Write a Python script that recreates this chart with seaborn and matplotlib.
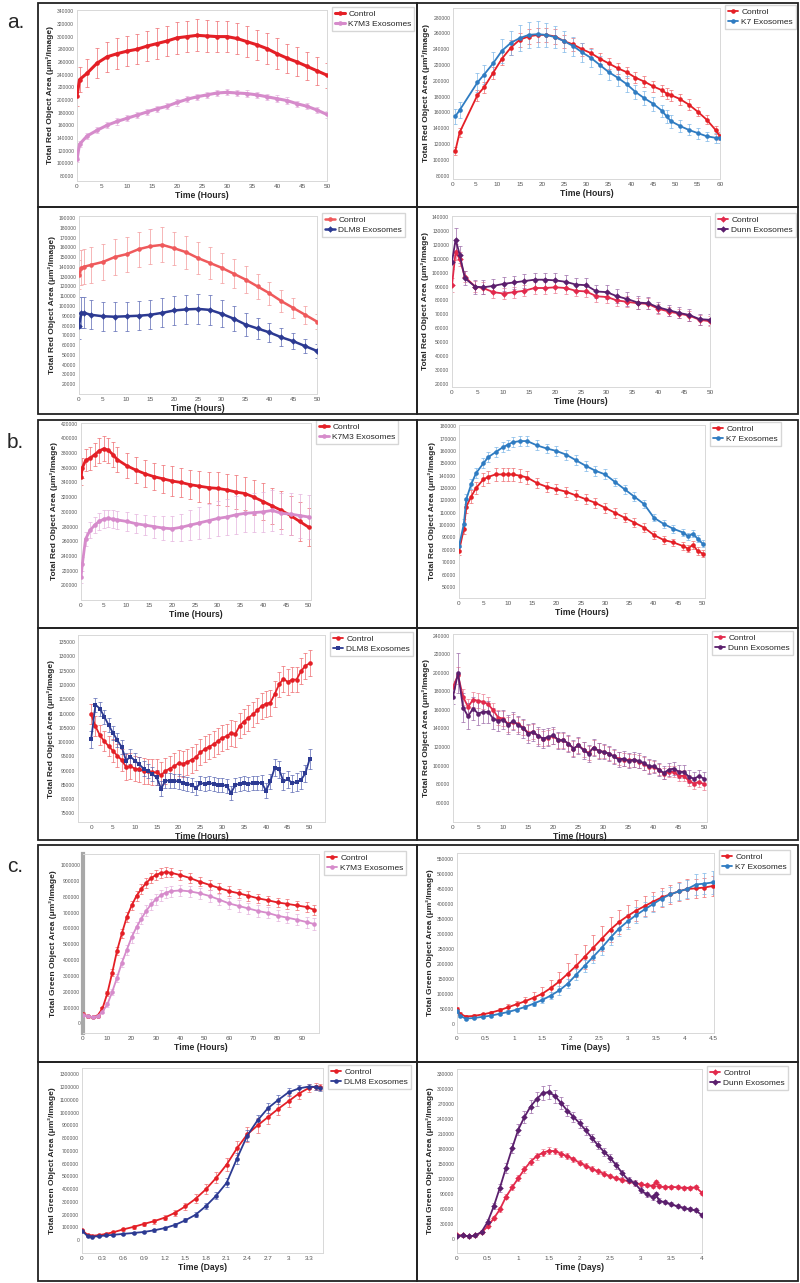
import numpy as np
import matplotlib
matplotlib.use("Agg")
import matplotlib.pyplot as plt
from matplotlib.patches import Rectangle
from matplotlib.ticker import FuncFormatter
import seaborn as sns

# ---------------- data ----------------
# a. top-left : Control vs K7M3 (hours)
a1_t = [0, 0.5, 2, 4, 6, 8, 10, 12, 14, 16, 18, 20, 22, 24, 26, 28, 30, 32, 34, 36, 38, 40, 42, 44, 46, 48, 50]
a1_ctrl = [206000, 232000, 242000, 258000, 268000, 273000, 277000, 280000, 285000, 289000, 293000, 298000, 300000, 302000,
           301000, 300000, 300000, 297000, 292000, 287000, 281000, 273000, 266000, 260000, 253000, 246000, 239000]
a1_ctrl_err = [15000, 20000, 22000, 24000, 24000, 24000, 24000, 24000, 24000, 24000, 24000, 25000, 25000, 25000,
               25000, 25000, 25000, 25000, 24000, 24000, 24000, 24000, 23000, 23000, 22000, 22000, 20000]
a1_k7m3 = [106000, 130000, 143000, 152000, 160000, 166000, 171000, 176000, 181000, 186000, 190000, 196000, 201000, 205000,
           208000, 211000, 212000, 211000, 210000, 208000, 205000, 202000, 199000, 194000, 190000, 184000, 177000]
a1_k7m3_err = [4000, 5000, 5000, 5000, 5000, 5000, 5000, 5000, 5000, 5000, 5000, 5000, 5000, 5000,
               5000, 5000, 5000, 5000, 5000, 5000, 5000, 5000, 5000, 5000, 5000, 5000, 5000]

# a. top-right : Control vs K7 (hours)
a2_t = [0.5, 1.5, 5.5, 7, 9, 11, 13, 15, 17, 19, 21, 23, 25, 27, 29, 31, 33, 35, 37, 39, 41, 43, 45, 47, 48, 49,
        51, 53, 55, 57, 59, 60]
a2_ctrl = [111000, 135000, 182000, 192000, 210000, 228000, 242000, 252000, 256000, 258000, 258000, 256000, 250000,
           246000, 240000, 235000, 228000, 222000, 216000, 211000, 204000, 199000, 193000, 188000, 184000, 182000,
           177000, 170000, 161000, 151000, 138000, 130000]
a2_ctrl_err = [5000, 6000, 7000, 7000, 8000, 8000, 9000, 9000, 9000, 9000, 9000, 9000, 8000, 8000, 8000, 7000,
               7000, 7000, 7000, 7000, 7000, 7000, 7000, 7000, 7000, 7000, 7000, 7000, 6000, 6000, 5000, 5000]
a2_k7 = [155000, 163000, 198000, 208000, 222000, 238000, 248000, 254000, 258000, 259000, 258000, 255000, 250000,
         244000, 236000, 229000, 220000, 211000, 204000, 196000, 186000, 178000, 171000, 162000, 155000, 149000,
         143000, 138000, 134000, 130000, 128000, 128000]
a2_k7_err = [10000, 10000, 12000, 12000, 14000, 15000, 15000, 16000, 16000, 16000, 15000, 14000, 13000, 12000,
             12000, 11000, 11000, 10000, 10000, 10000, 9000, 9000, 9000, 8000, 8000, 8000, 7000, 7000, 7000,
             6000, 6000, 6000]

# a. bottom-left : Control vs DLM8 (hours)
a3_t = [0, 0.5, 1, 2.5, 5, 7.5, 10, 12.5, 15, 17.5, 20, 22.5, 25, 27.5, 30, 32.5, 35, 37.5, 40, 42.5, 45, 47.5, 50]
a3_ctrl = [132000, 139000, 140000, 142000, 145000, 150000, 153000, 158000, 161000, 162500, 159000, 155000, 149000,
           144000, 139000, 133000, 127000, 120000, 113000, 105000, 98000, 91000, 84000]
a3_ctrl_err = [15000, 18000, 18000, 18000, 18000, 18000, 18000, 18000, 18000, 18000, 17000, 17000, 16000, 16000,
               15000, 15000, 14000, 13000, 12000, 11000, 10000, 9000, 8000]
a3_dlm8 = [80000, 93000, 93000, 91000, 89500, 89000, 89500, 90000, 91000, 93000, 95400, 96500, 97000, 96000,
           92000, 87000, 81000, 77000, 73000, 68000, 64000, 59000, 54000]
a3_dlm8_err = [14000, 16000, 16000, 15000, 15000, 15000, 15000, 15000, 15000, 15000, 15000, 15000, 15000, 15000,
               14000, 13000, 12000, 11000, 10000, 9000, 8000, 7000, 7000]

# a. bottom-right : Control vs Dunn (hours)
a4_t = [0, 0.7, 1.5, 2.5, 4.5, 6, 8, 10, 12, 14, 16, 18, 20, 22, 24, 26, 28, 30, 32, 34, 36, 38, 40, 42, 44, 46, 48, 50]
a4_ctrl = [91000, 115000, 110000, 97000, 90000, 89000, 86000, 85000, 86000, 87000, 89000, 89000, 89500, 89000,
           87000, 86500, 83000, 82500, 80000, 79000, 78000, 77500, 74000, 72000, 70500, 69000, 66000, 65000]
a4_ctrl_err = [5000, 6000, 5000, 4000, 4000, 4000, 4000, 4000, 4000, 4000, 4000, 4000, 4000, 4000,
               4000, 4000, 4000, 4000, 4000, 4000, 4000, 4000, 3500, 3500, 3500, 3500, 3500, 3500]
a4_dunn = [108000, 124000, 113000, 96000, 90000, 89500, 90500, 92000, 93000, 94000, 95000, 95000, 94500, 93500,
           91500, 91000, 86500, 86000, 83000, 81000, 78500, 78000, 75000, 73000, 71000, 69500, 66500, 66000]
a4_dunn_err = [5000, 8000, 6000, 5000, 5000, 5000, 5000, 5000, 5000, 5000, 5000, 5000, 5000, 5000,
               5000, 5000, 5000, 5000, 5000, 5000, 4500, 4500, 4000, 4000, 4000, 4000, 4000, 4000]

# b. top-left : Control vs K7M3 (hours)
b1_t = [0, 0.3, 1, 2, 3, 4, 5, 6, 7, 8, 10, 12, 14, 16, 18, 20, 22, 24, 26, 28, 30, 32, 34, 36, 38, 40, 42, 44,
        46, 48, 50]
b1_ctrl = [348000, 360000, 370000, 373000, 378000, 383000, 386000, 384000, 378000, 371000, 363000, 357000, 352000,
           348000, 345000, 342000, 340000, 337000, 335000, 333000, 332000, 330000, 327000, 325000, 320000, 314000,
           308000, 302000, 295000, 287000, 279000]
b1_ctrl_err = [12000, 14000, 15000, 16000, 16000, 17000, 17000, 17000, 17000, 17000, 17000, 18000, 18000, 18000,
               19000, 20000, 20000, 20000, 21000, 21000, 22000, 22000, 23000, 23000, 24000, 25000, 25000, 26000,
               26000, 26000, 26000]
b1_k7m3 = [211000, 229000, 263000, 275000, 282000, 287000, 290000, 291000, 290000, 289000, 287000, 284000, 282000,
           280000, 278000, 277000, 279000, 282000, 285000, 288000, 291000, 293000, 296000, 298000, 299000, 300000,
           302000, 298000, 297000, 295000, 293000]
b1_k7m3_err = [8000, 9000, 10000, 11000, 11000, 12000, 12000, 12000, 12000, 12000, 13000, 13000, 14000, 15000,
               16000, 17000, 18000, 20000, 22000, 23000, 24000, 25000, 26000, 26000, 27000, 27000, 28000, 28000,
               29000, 30000, 30000]

# b. top-right : Control vs K7 (hours)
b2_t = [0, 1, 1.5, 2.5, 3.5, 5, 6, 7.5, 9, 10, 11, 12.5, 14, 16, 18, 20, 22, 24, 26, 28, 30, 32, 34, 36, 38, 40,
        42, 44, 46, 47, 48, 49, 50]
b2_ctrl = [79000, 97000, 115000, 123000, 130000, 137000, 139000, 141000, 141000, 141000, 141000, 140000, 138500,
           134000, 131000, 129000, 127000, 124000, 121000, 118000, 114000, 110000, 106000, 102000, 98000, 92000,
           88000, 86000, 83000, 81000, 84000, 79000, 77000]
b2_ctrl_err = [3000, 4000, 5000, 5000, 5000, 5000, 5000, 5000, 5000, 5000, 5000, 5000, 5000, 4000, 4000, 4000,
               4000, 4000, 4000, 4000, 4000, 4000, 3500, 3500, 3500, 3000, 3000, 3000, 3000, 3000, 3000, 3000, 3000]
b2_k7 = [83000, 101000, 121000, 133000, 142000, 150000, 155000, 159000, 163000, 165000, 167000, 168000, 168000,
         164500, 162000, 160000, 157000, 152500, 148000, 144000, 141000, 135000, 129000, 123000, 117000, 106000,
         101000, 97000, 94000, 91000, 93000, 89000, 85000]
b2_k7_err = [3000, 4000, 4000, 4000, 4000, 4000, 4000, 4000, 4000, 4000, 4000, 4000, 4000, 4000, 4000, 4000,
             4000, 4000, 4000, 4000, 4000, 3500, 3500, 3500, 3500, 3000, 3000, 3000, 3000, 3000, 3000, 3000, 3000]

# b. bottom-left : Control vs DLM8 (hourly)
b3_t = [0, 1, 2, 3, 4, 5, 6, 7, 8, 9, 10, 11, 12, 13, 14, 15, 16, 17, 18, 19, 20, 21, 22, 23, 24, 25,
        26, 27, 28, 29, 30, 31, 32, 33, 34, 35, 36, 37, 38, 39, 40, 41, 42, 43, 44, 45, 46, 47, 48, 49, 50]
b3_ctrl = [109700, 105500, 102400, 100300, 98600, 96900, 95200, 93700, 91300, 91500,
           90700, 90400, 89900, 89700, 89400, 89400, 88400, 89900, 90700, 91500,
           92600, 92400, 93000, 93800, 94700, 96400, 97500, 98400, 99200, 100300,
           101500, 102000, 103200, 102800, 105800, 107200, 108500, 109700, 111100, 112600,
           113400, 113800, 116800, 120200, 122200, 121000, 121900, 121900, 124800, 126700, 127600]
b3_ctrl_err = [3500, 3500, 3500, 3500, 3500, 4000, 4000, 4000, 4500, 4500,
               4500, 4500, 4500, 4500, 4500, 4500, 4500, 4500, 4500, 4500,
               4500, 4500, 4500, 4500, 4500, 4500, 4500, 4500, 4500, 4500,
               4500, 4500, 4500, 4500, 4500, 4500, 4500, 4500, 4500, 4500,
               4500, 4500, 4500, 4500, 4500, 4500, 4500, 4500, 4500, 4500, 4500]
b3_dlm8 = [100900, 113100, 111700, 108900, 106000, 103200, 100600, 98300, 93500, 94900,
           93500, 92200, 90700, 89900, 88800, 87600, 83700, 86500, 86500, 86400,
           86200, 85600, 85300, 85000, 83900, 85600, 85400, 85600, 85400, 85000,
           85000, 84700, 82200, 85000, 85400, 85600, 85400, 85600, 85600, 85800,
           83000, 86200, 91000, 90400, 86200, 87000, 85600, 86000, 86700, 89000, 94100]
b3_dlm8_err = [3000, 2500, 2500, 2500, 2500, 2500, 2500, 2500, 2500, 2500,
               2500, 2500, 2500, 2500, 2500, 2500, 2500, 2500, 2500, 2500,
               2500, 2500, 2500, 2500, 2500, 2500, 2500, 2500, 2500, 2500,
               2500, 2500, 2500, 2500, 2500, 2500, 2500, 2500, 2500, 2500,
               2500, 2500, 3000, 3000, 3000, 3000, 3000, 3000, 3000, 3000, 3500]

# b. bottom-right : Control vs Dunn (hourly)
b4_t = b3_t
b4_ctrl = [184900, 197500, 174100, 163300, 171200, 169800, 168700, 166200, 159700, 151800,
           150700, 144600, 147100, 144600, 141000, 135200, 136300, 131600, 129100, 130200,
           131600, 127300, 127300, 123700, 118300, 121900, 117200, 113600, 119400, 115800,
           114700, 112900, 110000, 107500, 106400, 105700, 105700, 103900, 102100, 98500,
           98500, 95600, 91300, 93100, 93100, 88800, 88800, 83400, 80500, 82300, 79800]
b4_ctrl_err = [6000, 9000, 9000, 9000, 8000, 8000, 8000, 8000, 8000, 8000,
               8000, 8000, 8000, 8000, 8000, 8000, 8000, 8000, 8000, 8000,
               8000, 8000, 8000, 8000, 8000, 8000, 8000, 8000, 8000, 8000,
               7000, 7000, 7000, 7000, 7000, 7000, 7000, 7000, 7000, 7000,
               6000, 6000, 6000, 6000, 6000, 6000, 6000, 6000, 6000, 6000, 6000]
b4_dunn = [174100, 200000, 162600, 153200, 161500, 156100, 157900, 157900, 150700, 148200,
           149600, 144200, 148200, 143500, 140000, 134500, 136300, 131600, 129100, 130900,
           132700, 127300, 127300, 123700, 118300, 121900, 116500, 112900, 119400, 115800,
           114700, 112900, 110000, 106400, 107500, 105000, 106400, 105000, 102800, 99200,
           99200, 95600, 92000, 95600, 96700, 93100, 93100, 87700, 85900, 88400, 85900]
b4_dunn_err = [8000, 22000, 16000, 14000, 12000, 12000, 12000, 12000, 11000, 11000,
               10000, 10000, 10000, 10000, 10000, 10000, 10000, 10000, 10000, 10000,
               9000, 9000, 9000, 9000, 9000, 9000, 9000, 9000, 9000, 9000,
               8000, 8000, 8000, 8000, 8000, 8000, 8000, 8000, 8000, 8000,
               7000, 7000, 7000, 7000, 7000, 7000, 7000, 7000, 7000, 7000, 7000]

# c. top-left : Control vs K7M3 green area (hours)
c1_t = [0, 2, 4, 6, 8, 10, 12, 14, 16, 18, 20, 22, 24, 26, 28, 30, 32, 34, 36, 40, 44, 48, 52, 56, 60, 64, 68,
        72, 76, 80, 84, 88, 92, 95]
c1_ctrl = [60000, 45000, 40000, 50000, 95000, 190000, 320000, 460000, 570000, 672000, 745000, 806000, 850000,
           888000, 918000, 938000, 950000, 955000, 952000, 937000, 918000, 895000, 875000, 855000, 836000, 822000,
           806000, 790000, 778000, 764000, 755000, 745000, 735000, 718000]
c1_ctrl_err = [10000, 8000, 8000, 10000, 12000, 18000, 22000, 25000, 28000, 30000, 30000, 30000, 30000,
               30000, 30000, 30000, 30000, 30000, 30000, 30000, 30000, 30000, 30000, 30000, 30000, 30000,
               30000, 30000, 30000, 30000, 30000, 30000, 30000, 30000]
c1_k7m3 = [55000, 45000, 40000, 45000, 75000, 120000, 200000, 290000, 385000, 465000, 545000, 608000, 662000,
           712000, 752000, 785000, 810000, 825000, 835000, 840000, 834000, 822000, 805000, 782000, 758000, 742000,
           726000, 710000, 698000, 680000, 668000, 655000, 640000, 628000]
c1_k7m3_err = [8000, 6000, 6000, 8000, 10000, 15000, 20000, 25000, 30000, 32000, 35000, 35000, 35000,
               35000, 35000, 35000, 35000, 35000, 35000, 35000, 35000, 35000, 35000, 35000, 35000, 35000,
               35000, 35000, 35000, 35000, 35000, 35000, 35000, 35000]

# c. top-right : Control vs K7 green area (days)
c2_t = [0, 0.05, 0.15, 0.3, 0.45, 0.6, 0.75, 0.9, 1.05, 1.2, 1.35, 1.5, 1.65, 1.8, 1.95, 2.1, 2.25, 2.4, 2.55,
        2.7, 2.85, 3.0, 3.15, 3.3, 3.45, 3.6, 3.75, 3.9, 4.05, 4.2, 4.35, 4.5]
c2_ctrl = [50000, 35000, 25000, 27000, 32000, 38000, 46000, 56000, 66000, 76000, 88000, 101000, 120000, 142000,
           168000, 195000, 225000, 255000, 285000, 315000, 340000, 360000, 378000, 393000, 408000, 422000, 432000,
           442000, 450000, 452000, 455000, 460000]
c2_ctrl_err = [8000, 6000, 5000, 5000, 6000, 7000, 8000, 10000, 12000, 14000, 18000, 22000, 26000, 30000, 34000,
               38000, 40000, 42000, 42000, 42000, 40000, 38000, 36000, 34000, 32000, 32000, 32000, 32000, 32000,
               32000, 32000, 32000]
c2_k7 = [45000, 28000, 18000, 20000, 24000, 28000, 34000, 40000, 48000, 57000, 68000, 80000, 95000, 112000,
         135000, 165000, 195000, 225000, 255000, 288000, 318000, 342000, 363000, 382000, 400000, 418000, 432000,
         442000, 450000, 465000, 468000, 472000]
c2_k7_err = [6000, 5000, 4000, 4000, 4000, 5000, 5000, 6000, 6000, 7000, 8000, 10000, 12000, 14000, 16000,
             18000, 20000, 22000, 24000, 26000, 26000, 26000, 26000, 26000, 26000, 26000, 26000, 28000, 30000,
             34000, 36000, 38000]

# c. bottom-left : Control vs DLM8 green area (days)
c3_t = [0, 0.08, 0.15, 0.25, 0.35, 0.45, 0.6, 0.75, 0.9, 1.05, 1.2, 1.35, 1.5, 1.65, 1.8, 1.95, 2.1, 2.25, 2.4,
        2.55, 2.7, 2.85, 3.0, 3.15, 3.3, 3.4, 3.45]
c3_ctrl = [80000, 42000, 35000, 40000, 50000, 62000, 85000, 105000, 128000, 150000, 177000, 215000, 265000,
           325000, 400000, 490000, 593000, 720000, 830000, 900000, 965000, 1030000, 1090000, 1150000, 1195000,
           1205000, 1200000]
c3_ctrl_err = [10000, 8000, 8000, 8000, 10000, 12000, 14000, 16000, 18000, 20000, 22000, 25000, 30000, 35000,
               40000, 45000, 50000, 55000, 60000, 60000, 55000, 50000, 45000, 40000, 30000, 25000, 25000]
c3_dlm8 = [75000, 32000, 28000, 32000, 38000, 42000, 50000, 57000, 65000, 78000, 95000, 120000, 156000, 200000,
           268000, 350000, 450000, 640000, 820000, 940000, 1035000, 1100000, 1160000, 1190000, 1205000, 1200000,
           1190000]
c3_dlm8_err = [8000, 6000, 6000, 6000, 6000, 6000, 7000, 8000, 9000, 10000, 12000, 14000, 16000, 20000, 25000,
               30000, 35000, 40000, 45000, 45000, 40000, 35000, 30000, 25000, 20000, 20000, 20000]

# c. bottom-right : Control vs Dunn green area (days)
c4_t = [0, 0.1, 0.2, 0.3, 0.4, 0.5, 0.6, 0.7, 0.8, 0.9, 1.0, 1.1, 1.2, 1.3, 1.4, 1.5, 1.6, 1.7, 1.8, 1.9, 2.0,
        2.1, 2.2, 2.3, 2.4, 2.5, 2.6, 2.7, 2.8, 2.9, 3.0, 3.1, 3.2, 3.25, 3.3, 3.4, 3.5, 3.6, 3.7, 3.8, 3.9, 4.0]
c4_ctrl = [8000, 8000, 6000, 8000, 14000, 26000, 42000, 60000, 85000, 104000,
           122000, 140000, 155000, 166000, 173000, 177000, 176000, 171000, 166000, 160000,
           153000, 147000, 141000, 136000, 131000, 126000, 122000, 119000, 116000, 113000,
           110000, 108000, 107000, 115000, 106000, 104000, 105000, 104000, 103000, 103000, 104000, 93000]
c4_ctrl_err = [3000, 3000, 3000, 3000, 3000, 4000, 4000, 5000, 5000, 6000,
               6000, 7000, 7000, 7000, 7000, 7000, 6000, 6000, 6000, 5000,
               5000, 5000, 5000, 5000, 5000, 4000, 4000, 4000, 4000, 4000,
               4000, 4000, 4000, 4000, 4000, 4000, 4000, 4000, 4000, 4000, 4000, 4000]
c4_dunn = [7000, 8000, 6000, 8000, 15000, 35000, 66000, 103000, 143000, 182000,
           219000, 244000, 265000, 280000, 292000, 294000, 286000, 272000, 257000, 245000,
           232000, 218000, 203000, 188000, 175000, 163000, 148000, 132000, 118000, 113000,
           98000, 90000, 84000, 90000, 77000, 74000, 70000, 66000, 63000, 60000, 58000, 48000]
c4_dunn_err = [3000, 3000, 3000, 3000, 3000, 5000, 6000, 8000, 10000, 10000,
               11000, 12000, 13000, 14000, 14000, 14000, 13000, 12000, 11000, 10000,
               9000, 9000, 8000, 8000, 8000, 8000, 7000, 7000, 6000, 6000,
               6000, 5000, 5000, 5000, 5000, 4000, 4000, 4000, 4000, 4000, 4000, 4000]

RED_LABEL = "Total Red Object Area (μm²/Image)"
GREEN_LABEL = "Total Green Object Area (μm²/Image)"

# ---------------- style ----------------
sns.set_style("white")
plt.rcParams['font.family'] = ['Liberation Sans', 'DejaVu Sans']

RED = "#e41f26"
RED_ERR = "#ee6a6e"
RED_SOFT = "#ef5a5c"
RED_SOFT_ERR = "#f39a9b"
CRIMSON = "#e22a4c"
CRIMSON_ERR = "#ec7d93"
PINK = "#d68bcb"
PINK_ERR = "#e4b2dd"
BLUE = "#2f7cc2"
BLUE_ERR = "#7db6e8"
NAVY = "#2c3a92"
NAVY_ERR = "#5a67b3"
PURPLE = "#5b1f6d"
PURPLE_ERR = "#9b6aa8"

W, H = 800, 1283
fig = plt.figure(figsize=(W / 100, H / 100), dpi=100)


def draw(box, t, series, ylabel, xlabel, xlim, ylim, yticks, xticks, lw=1.3):
    x0, y0, x1, y1 = box
    ax = fig.add_axes([x0 / W, 1 - y1 / H, (x1 - x0) / W, (y1 - y0) / H])
    for label, y, err, color, ecolor, marker in series:
        ax.errorbar(t, y, yerr=err, fmt='none', ecolor=ecolor, elinewidth=0.5,
                    capsize=1.2, capthick=0.5, zorder=1)
    for label, y, err, color, ecolor, marker in series:
        sns.lineplot(x=t, y=y, ax=ax, color=color, marker=marker, markersize=3.3,
                     markeredgewidth=0, linewidth=lw, label=label, zorder=3)
    ax.set_xlim(*xlim)
    ax.set_ylim(*ylim)
    ax.set_yticks(yticks)
    ax.set_xticks(xticks)
    ax.yaxis.set_major_formatter(FuncFormatter(lambda v, p: f"{v:.0f}"))
    ax.xaxis.set_major_formatter(FuncFormatter(lambda v, p: f"{round(v, 2):g}"))
    ax.tick_params(axis='y', labelsize=3.6, length=0, pad=2, labelcolor="#555555")
    ax.tick_params(axis='x', labelsize=4.6, length=0, pad=2.5, labelcolor="#555555")
    for s in ax.spines.values():
        s.set_color("#d8d8d8")
        s.set_linewidth(0.7)
    ax.set_ylabel(ylabel, fontsize=6, fontweight='bold', labelpad=2)
    ax.set_xlabel(xlabel, fontsize=6.2, fontweight='bold', labelpad=1)
    ax.legend(loc='upper left', bbox_to_anchor=((x1 + 5) / W, 1 - (y0 - 3) / H),
              bbox_transform=fig.transFigure, frameon=True, fancybox=False,
              edgecolor="#cccccc", fontsize=6, handlelength=1.2, handletextpad=0.4,
              borderpad=0.35, labelspacing=0.25, borderaxespad=0)
    return ax


# ---- panel a ----
draw((77, 10, 327, 181), a1_t,
     [("Control", a1_ctrl, a1_ctrl_err, RED, RED_ERR, 'o'),
      ("K7M3 Exosomes", a1_k7m3, a1_k7m3_err, PINK, PINK_ERR, 'o')],
     RED_LABEL, "Time (Hours)", (0, 50), (72000, 342000),
     np.arange(80000, 340001, 20000), np.arange(0, 51, 5), lw=2.2)

draw((453, 8, 720, 179), a2_t,
     [("Control", a2_ctrl, a2_ctrl_err, RED, RED_ERR, 'o'),
      ("K7 Exosomes", a2_k7, a2_k7_err, BLUE, BLUE_ERR, 'o')],
     RED_LABEL, "Time (Hours)", (0, 60), (76000, 292000),
     np.arange(80000, 280001, 20000), np.arange(0, 61, 5))

draw((79, 216, 317, 394), a3_t,
     [("Control", a3_ctrl, a3_ctrl_err, RED_SOFT, RED_SOFT_ERR, 'o'),
      ("DLM8 Exosomes", a3_dlm8, a3_dlm8_err, NAVY, NAVY_ERR, 'D')],
     RED_LABEL, "Time (Hours)", (0, 50), (10000, 192000),
     np.arange(20000, 190001, 10000), np.arange(0, 51, 5), lw=1.8)

draw((452, 216, 710, 387), a4_t,
     [("Control", a4_ctrl, a4_ctrl_err, CRIMSON, CRIMSON_ERR, 'D'),
      ("Dunn Exosomes", a4_dunn, a4_dunn_err, PURPLE, PURPLE_ERR, 'D')],
     RED_LABEL, "Time (Hours)", (0, 50), (17500, 141000),
     np.arange(20000, 140001, 10000), np.arange(0, 51, 5))

# ---- panel b ----
draw((81, 423, 311, 600), b1_t,
     [("Control", b1_ctrl, b1_ctrl_err, RED, RED_ERR, 'o'),
      ("K7M3 Exosomes", b1_k7m3, b1_k7m3_err, PINK, PINK_ERR, 'o')],
     RED_LABEL, "Time (Hours)", (0, 50.5), (180000, 421000),
     np.arange(200000, 420001, 20000), np.arange(0, 51, 5), lw=2.0)

draw((459, 425, 705, 598), b2_t,
     [("Control", b2_ctrl, b2_ctrl_err, RED, RED_ERR, 'o'),
      ("K7 Exosomes", b2_k7, b2_k7_err, BLUE, BLUE_ERR, 'o')],
     RED_LABEL, "Time (Hours)", (0, 50.5), (41000, 181000),
     np.arange(50000, 180001, 10000), np.arange(0, 51, 5))

draw((78, 635, 325, 822), b3_t,
     [("Control", b3_ctrl, b3_ctrl_err, RED, RED_ERR, 'o'),
      ("DLM8 Exosomes", b3_dlm8, b3_dlm8_err, NAVY, NAVY_ERR, 's')],
     RED_LABEL, "Time (Hours)", (-3, 53.5), (72000, 137500),
     np.arange(75000, 135001, 5000), np.arange(0, 51, 5))

draw((453, 634, 707, 822), b4_t,
     [("Control", b4_ctrl, b4_ctrl_err, CRIMSON, CRIMSON_ERR, 'o'),
      ("Dunn Exosomes", b4_dunn, b4_dunn_err, PURPLE, PURPLE_ERR, 'o')],
     RED_LABEL, "Time (Hours)", (0, 50.6), (39000, 242000),
     np.arange(60000, 240001, 20000), np.arange(0, 51, 5))

# ---- panel c ----
ax_c1 = draw((83, 854, 319, 1033), c1_t,
             [("Control", c1_ctrl, c1_ctrl_err, RED, RED_ERR, 'o'),
              ("K7M3 Exosomes", c1_k7m3, c1_k7m3_err, PINK, PINK_ERR, 'o')],
             GREEN_LABEL, "Time (Hours)", (0, 97), (-60000, 1070000),
             np.arange(0, 1000001, 100000), np.arange(0, 91, 10))
ax_c1.spines['left'].set_color("#a8a8a8")
ax_c1.spines['left'].set_linewidth(3)

draw((457, 853, 714, 1033), c2_t,
     [("Control", c2_ctrl, c2_ctrl_err, RED, RED_ERR, 'o'),
      ("K7 Exosomes", c2_k7, c2_k7_err, BLUE, BLUE_ERR, 'o')],
     GREEN_LABEL, "Time (Days)", (0, 4.52), (-30000, 570000),
     np.arange(0, 550001, 50000), np.arange(0, 4.51, 0.5))

draw((82, 1068, 323, 1253), c3_t,
     [("Control", c3_ctrl, c3_ctrl_err, RED, RED_ERR, 'o'),
      ("DLM8 Exosomes", c3_dlm8, c3_dlm8_err, NAVY, NAVY_ERR, 'o')],
     GREEN_LABEL, "Time (Days)", (0, 3.5), (-100000, 1350000),
     np.arange(0, 1300001, 100000), np.arange(0, 3.31, 0.3))

draw((457, 1069, 702, 1253), c4_t,
     [("Control", c4_ctrl, c4_ctrl_err, CRIMSON, CRIMSON_ERR, 'D'),
      ("Dunn Exosomes", c4_dunn, c4_dunn_err, PURPLE, PURPLE_ERR, 'D')],
     GREEN_LABEL, "Time (Days)", (0, 4), (-27000, 340000),
     np.arange(0, 330001, 30000), np.arange(0, 4.01, 0.5))

# ---- frames around each cell and panel letters ----
cols = [(38, 417), (417, 798)]
rows = [(3, 207), (207, 414), (420, 628), (628, 840), (845, 1062), (1062, 1281)]
for (ry0, ry1) in rows:
    for (cx0, cx1) in cols:
        fig.add_artist(Rectangle((cx0 / W, 1 - ry1 / H), (cx1 - cx0) / W, (ry1 - ry0) / H,
                                 transform=fig.transFigure, fill=False, edgecolor="#222222",
                                 linewidth=1.3))

for letter, ypx in [("a.", 22), ("b.", 442), ("c.", 866)]:
    fig.text(7 / W, 1 - ypx / H, letter, fontsize=15, va='center', ha='left')

fig.savefig("out.png", dpi=100)
